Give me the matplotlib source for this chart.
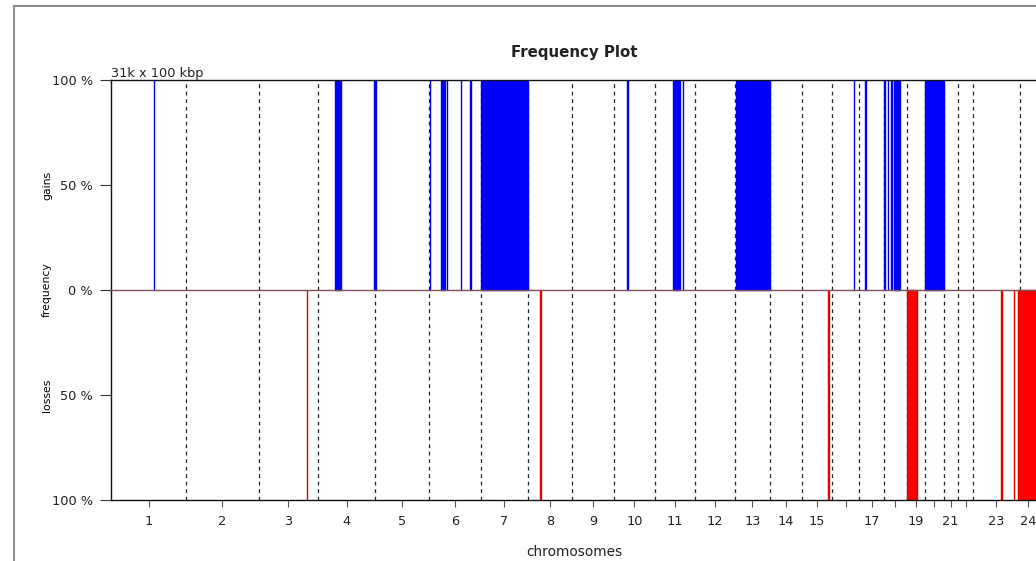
import numpy as np
import matplotlib
matplotlib.use('Agg')
import matplotlib.pyplot as plt
from matplotlib.lines import Line2D

# chromosome sizes in 100 kbp bins
chrom_lengths = [249, 243, 198, 191, 181, 171, 159, 146, 141, 136, 135, 134,
                 115, 107, 103, 90, 81, 78, 59, 63, 48, 51, 155, 59]
chrom_labels = ['1', '2', '3', '4', '5', '6', '7', '8', '9', '10', '11', '12',
                '13', '14', '15', '', '17', '', '19', '', '21', '', '23', '24']

# gained regions (genome position, 100 kbp bins) and frequency
gain_start = [141, 747, 878, 1063, 1102, 1120, 1167, 1198, 1233, 1724, 1877, 1908,
              2085, 2480, 2519, 2581, 2593, 2606, 2614, 2718]
gain_end = [143, 768, 885, 1065, 1115, 1122, 1169, 1200, 1392, 1726, 1901, 1910,
            2200, 2482, 2521, 2583, 2595, 2608, 2634, 2781]
gain_freq = [1.0] * len(gain_start)

# lost regions
loss_start = [652, 1432, 2394, 2659, 2972, 3015, 3029]
loss_end = [654, 1434, 2397, 2693, 2977, 3017, 3096]
loss_freq = [1.0] * len(loss_start)

y_ticks = [1.0, 0.5, 0.0, -0.5, -1.0]
y_ticklabels = ['100 %', '50 %', '0 %', '50 %', '100 %']

W, H = 1036, 561
fig = plt.figure(figsize=(W / 100, H / 100), dpi=100)
plt.rcParams['font.family'] = 'DejaVu Sans'

ax = fig.add_axes([111.5 / W, 61 / H, 925.7 / W, 420 / H])

bounds = np.cumsum(chrom_lengths)
centers = bounds - np.array(chrom_lengths) / 2.0
total = bounds[-1]

for b in bounds[:-1]:
    ax.plot([b, b], [-1, 1], color='#222222', lw=0.9, ls=(0, (3, 3)), zorder=1)

gs = np.array(gain_start)
ge = np.array(gain_end)
ax.bar(gs, gain_freq, width=ge - gs, align='edge', color='#0000ff',
       edgecolor='#0000ee', linewidth=1.0, zorder=2)
ls_ = np.array(loss_start)
le = np.array(loss_end)
ax.bar(ls_, -np.array(loss_freq), width=le - ls_, align='edge', color='#ff0000',
       edgecolor='#e00000', linewidth=1.0, zorder=2)

ax.axhline(0, color='#7f4f5a', lw=1.0, zorder=3)

ax.set_xlim(0, total)
ax.set_ylim(-1, 1)
ax.set_xticks(centers)
ax.set_xticklabels(chrom_labels, fontsize=9.3, color='#222222')
ax.set_yticks(y_ticks)
ax.set_yticklabels(y_ticklabels, fontsize=9.3, color='#222222')
ax.tick_params(axis='y', length=8, width=0.8, pad=5.5, color='#333333')
ax.tick_params(axis='x', length=5, width=0.8, pad=6, color='#555555')
for sp in ax.spines.values():
    sp.set_linewidth(1.0)
    sp.set_color('#111111')

ax.text(0, 1.012, '31k x 100 kbp', fontsize=9.3, ha='left', va='baseline', color='#222222')

fig.text(574 / W, 1 - 52 / H, 'Frequency Plot', fontsize=10.8, fontweight='bold',
         ha='center', va='center', color='#222222')
fig.text(574 / W, 1 - 552 / H, 'chromosomes', fontsize=9.9, ha='center', va='center',
         color='#222222')
fig.text(47 / W, 1 - 185 / H, 'gains', fontsize=7.8, rotation=90, ha='center', va='center')
fig.text(47 / W, 1 - 290 / H, 'frequency', fontsize=7.8, rotation=90, ha='center', va='center')
fig.text(47 / W, 1 - 395 / H, 'losses', fontsize=7.8, rotation=90, ha='center', va='center')

# outer frame of the screenshot
fx = 13.5 / W
fy = 1 - 6 / H
fig.add_artist(Line2D([fx, fx], [0, fy], transform=fig.transFigure, color='#8c8c8c', lw=1.5))
fig.add_artist(Line2D([fx, 1], [fy, fy], transform=fig.transFigure, color='#8c8c8c', lw=1.5))

fig.savefig('out.png', dpi=100)
